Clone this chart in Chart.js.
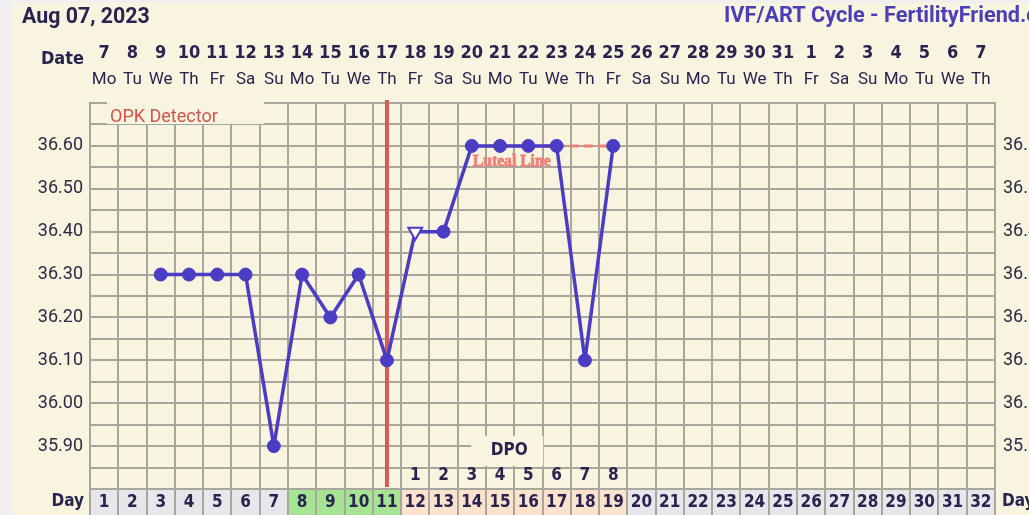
<!DOCTYPE html>
<html>
<head>
<meta charset="utf-8">
<script src="https://cdn.jsdelivr.net/npm/chart.js@4.4.0/dist/chart.umd.min.js"></script>
<style>
  html, body { margin: 0; padding: 0; background: #efefef; }
  canvas { display: block; }
</style>
</head>
<body>
<canvas id="bbtChart" width="1029" height="515"></canvas>
<script>
// ==================== Chart Data ====================

// cycle days (x axis, bottom row)
const cycleDays = [1, 2, 3, 4, 5, 6, 7, 8, 9, 10, 11, 12, 13, 14, 15, 16,
    17, 18, 19, 20, 21, 22, 23, 24, 25, 26, 27, 28, 29, 30, 31, 32];

// calendar date + weekday (top rows)
const dateNumbers = [7, 8, 9, 10, 11, 12, 13, 14, 15, 16, 17, 18, 19, 20, 21, 22,
    23, 24, 25, 26, 27, 28, 29, 30, 31, 1, 2, 3, 4, 5, 6, 7];
const weekDays = ['Mo', 'Tu', 'We', 'Th', 'Fr', 'Sa', 'Su', 'Mo', 'Tu', 'We', 'Th',
    'Fr', 'Sa', 'Su', 'Mo', 'Tu', 'We', 'Th', 'Fr', 'Sa', 'Su', 'Mo', 'Tu', 'We',
    'Th', 'Fr', 'Sa', 'Su', 'Mo', 'Tu', 'We', 'Th'];

// temperatures per cycle day (null = no reading)
const temperatures = [null, null, 36.30, 36.30, 36.30, 36.30, 35.90, 36.30, 36.20,
    36.30, 36.10, 36.40, 36.40, 36.60, 36.60, 36.60, 36.60, 36.10, 36.60,
    null, null, null, null, null, null, null, null, null, null, null, null, null];

// days with an open (questionable) marker
const openMarkerDays = [12];

// ovulation / fertile / luteal info
const ovulationDay = 11;
const fertileDays = [8, 9, 10, 11];
const lutealDays = [12, 13, 14, 15, 16, 17, 18, 19];
const lutealValue = 36.60;
const lutealLineDays = [14, 15, 16, 17, 18, 19];
const dpoLabels = [1, 2, 3, 4, 5, 6, 7, 8];

// y axis
const yMin = 35.80;
const yMax = 36.70;
const yStep = 0.05;

const headerDate = 'Aug 07, 2023';
const headerTitle = 'IVF/ART Cycle - FertilityFriend.com';

// ==================== Style ====================

const NAVY = '#28244f';
const GRID = '#a8a79d';
const CREAM = '#f8f4df';
const LINE_BLUE = '#4a3dc4';
const SALMON = '#ef8078';
const BOLD_NUM = "bold 17px 'DejaVu Sans Condensed', 'DejaVu Sans', sans-serif";
const BOLD_DATE = "bold 18px 'DejaVu Sans Condensed', 'DejaVu Sans', sans-serif";

/**
 * 텍스트 그리기 (가로 배율 / 외곽선 옵션)
 */
function drawText(ctx, text, x, y, font, color, align = 'center', scaleX = 1, strokeW = 0) {
    ctx.save();
    ctx.font = font;
    ctx.fillStyle = color;
    ctx.textAlign = align;
    ctx.textBaseline = 'middle';
    ctx.translate(x, y);
    ctx.scale(scaleX, 1);
    ctx.fillText(text, 0, 0);
    if (strokeW) {
        ctx.strokeStyle = color;
        ctx.lineWidth = strokeW;
        ctx.strokeText(text, 0, 0);
    }
    ctx.restore();
}

/**
 * y축 라벨 (0.1 단위만 표시)
 */
function tickLabel(v) {
    const r = Math.round(v * 100);
    if (r % 10 !== 0) return '';
    if (v < yMin + 0.01 || v > yMax - 0.01) return '';
    return v.toFixed(2);
}

// ==================== Decoration Plugin ====================

const chartDecor = {
    id: 'chartDecor',
    beforeDraw(chart) {
        const { ctx, chartArea: a, scales: { x } } = chart;
        const W = chart.width, H = chart.height;
        const colW = x.getPixelForValue(1) - x.getPixelForValue(0);

        ctx.save();
        ctx.fillStyle = '#efefef';
        ctx.fillRect(0, 0, W, H);
        ctx.fillStyle = CREAM;
        ctx.fillRect(12, 3, W - 12, H - 3);
        ctx.restore();

        // header
        drawText(ctx, headerDate, 22, 17, "bold 22px Roboto, sans-serif", NAVY, 'left', 0.97);
        drawText(ctx, headerTitle, 724, 16, "bold 22px Roboto, sans-serif", '#4a3fb6', 'left', 0.985);

        drawText(ctx, 'Date', 84, 59, BOLD_DATE, NAVY, 'right');
        cycleDays.forEach((d, i) => {
            const cx = x.getPixelForValue(i);
            drawText(ctx, String(dateNumbers[i]), cx, 53, BOLD_DATE, NAVY);
            drawText(ctx, weekDays[i], cx, 80, "17px Roboto, sans-serif", NAVY);
        });

        // day row
        ctx.save();
        ctx.strokeStyle = GRID;
        ctx.lineWidth = 2;
        cycleDays.forEach((d, i) => {
            const cx = x.getPixelForValue(i);
            let fill = '#e6e6eb';
            if (fertileDays.includes(d)) fill = '#a6e392';
            else if (lutealDays.includes(d)) fill = '#fde2ce';
            ctx.fillStyle = fill;
            ctx.fillRect(cx - colW / 2, a.bottom, colW, H - a.bottom);
            ctx.beginPath();
            ctx.moveTo(Math.round(cx - colW / 2), a.bottom);
            ctx.lineTo(Math.round(cx - colW / 2), H);
            ctx.stroke();
        });
        ctx.beginPath();
        ctx.moveTo(a.right, a.bottom);
        ctx.lineTo(a.right, H);
        ctx.stroke();
        ctx.restore();
        cycleDays.forEach((d, i) => {
            drawText(ctx, String(d), x.getPixelForValue(i), 503, BOLD_NUM, NAVY);
        });
        drawText(ctx, 'Day', 84, 502, BOLD_NUM, NAVY, 'right');
        drawText(ctx, 'Day', 1002, 502, BOLD_NUM, NAVY, 'left');
    },
    beforeDatasetsDraw(chart) {
        const { ctx, chartArea: a, scales: { x } } = chart;

        // OPK detector label box
        ctx.save();
        ctx.fillStyle = CREAM;
        ctx.fillRect(a.left + 17, a.top - 4, 157, 25);
        ctx.restore();
        drawText(ctx, 'OPK Detector', a.left + 20, 117, "18px Roboto, sans-serif", '#d0534e', 'left');

        // DPO box + labels
        const i0 = cycleDays.indexOf(lutealDays[0]);
        const dpoX = (x.getPixelForValue(i0 + 3) + x.getPixelForValue(i0 + 4)) / 2 - 5;
        ctx.save();
        ctx.fillStyle = CREAM;
        ctx.fillRect(dpoX - 38, 436, 72, 30);
        ctx.restore();
        drawText(ctx, 'DPO', dpoX, 451, BOLD_NUM, NAVY);
        dpoLabels.forEach((n, k) => {
            drawText(ctx, String(n), x.getPixelForValue(i0 + k), 476, BOLD_NUM, NAVY);
        });

        // ovulation line
        const ox = x.getPixelForValue(cycleDays.indexOf(ovulationDay));
        ctx.save();
        ctx.strokeStyle = '#d65b56';
        ctx.lineWidth = 4;
        ctx.beginPath();
        ctx.moveTo(ox, a.top - 3);
        ctx.lineTo(ox, a.bottom - 2);
        ctx.stroke();
        ctx.restore();
    },
    afterDatasetsDraw(chart) {
        const { ctx, scales: { x, y } } = chart;
        const lx = x.getPixelForValue(cycleDays.indexOf(lutealLineDays[0]));
        drawText(ctx, 'Luteal Line', lx + 1, y.getPixelForValue(lutealValue) + 16,
            "bold 17px 'Liberation Serif', 'DejaVu Serif', serif", SALMON, 'left', 0.92, 0.8);
    }
};

// ==================== Chart ====================

const canvas = document.getElementById('bbtChart');

new Chart(canvas, {
    type: 'line',
    data: {
        labels: cycleDays.map(String),
        datasets: [
            {
                label: 'Temperature',
                data: temperatures,
                order: 0,
                borderColor: LINE_BLUE,
                borderWidth: 3.5,
                borderJoinStyle: 'round',
                pointRadius: cycleDays.map(d => openMarkerDays.includes(d) ? 8 : 6.5),
                pointStyle: cycleDays.map(d => openMarkerDays.includes(d) ? 'triangle' : 'circle'),
                pointRotation: cycleDays.map(d => openMarkerDays.includes(d) ? 180 : 0),
                pointBackgroundColor: cycleDays.map(d => openMarkerDays.includes(d) ? '#ffffff' : LINE_BLUE),
                pointBorderColor: LINE_BLUE,
                pointBorderWidth: cycleDays.map(d => openMarkerDays.includes(d) ? 2 : 1),
                spanGaps: false,
                tension: 0
            },
            {
                label: 'Luteal Line',
                data: cycleDays.map(d => lutealLineDays.includes(d) ? lutealValue : null),
                order: 1,
                borderColor: SALMON,
                borderWidth: 3,
                borderDash: [9, 5],
                pointRadius: 0,
                tension: 0
            }
        ]
    },
    options: {
        responsive: false,
        animation: false,
        events: [],
        layout: { padding: { top: 103, left: 0, right: 0, bottom: 0 } },
        plugins: {
            legend: { display: false },
            tooltip: { enabled: false }
        },
        scales: {
            x: {
                type: 'category',
                offset: true,
                grid: { offset: true, color: GRID, lineWidth: 2, drawTicks: false },
                border: { display: true, color: GRID, width: 2 },
                ticks: { display: false },
                afterFit(scale) { scale.height = 26; }
            },
            y: {
                position: 'left',
                min: yMin,
                max: yMax,
                grid: { color: GRID, lineWidth: 2, drawTicks: false },
                border: { display: true, color: GRID, width: 2 },
                ticks: {
                    stepSize: yStep,
                    autoSkip: false,
                    padding: 7,
                    color: '#2c2a46',
                    font: { family: 'Roboto', size: 18 },
                    callback: tickLabel
                },
                afterFit(scale) { scale.width = 90; }
            },
            y2: {
                position: 'right',
                min: yMin,
                max: yMax,
                grid: { display: false, drawTicks: false },
                border: { display: true, color: GRID, width: 2 },
                ticks: {
                    stepSize: yStep,
                    autoSkip: false,
                    padding: 8,
                    color: '#2c2a46',
                    font: { family: 'Roboto', size: 18 },
                    callback: tickLabel
                },
                afterFit(scale) { scale.width = 34; }
            }
        }
    },
    plugins: [chartDecor]
});
</script>
</body>
</html>
